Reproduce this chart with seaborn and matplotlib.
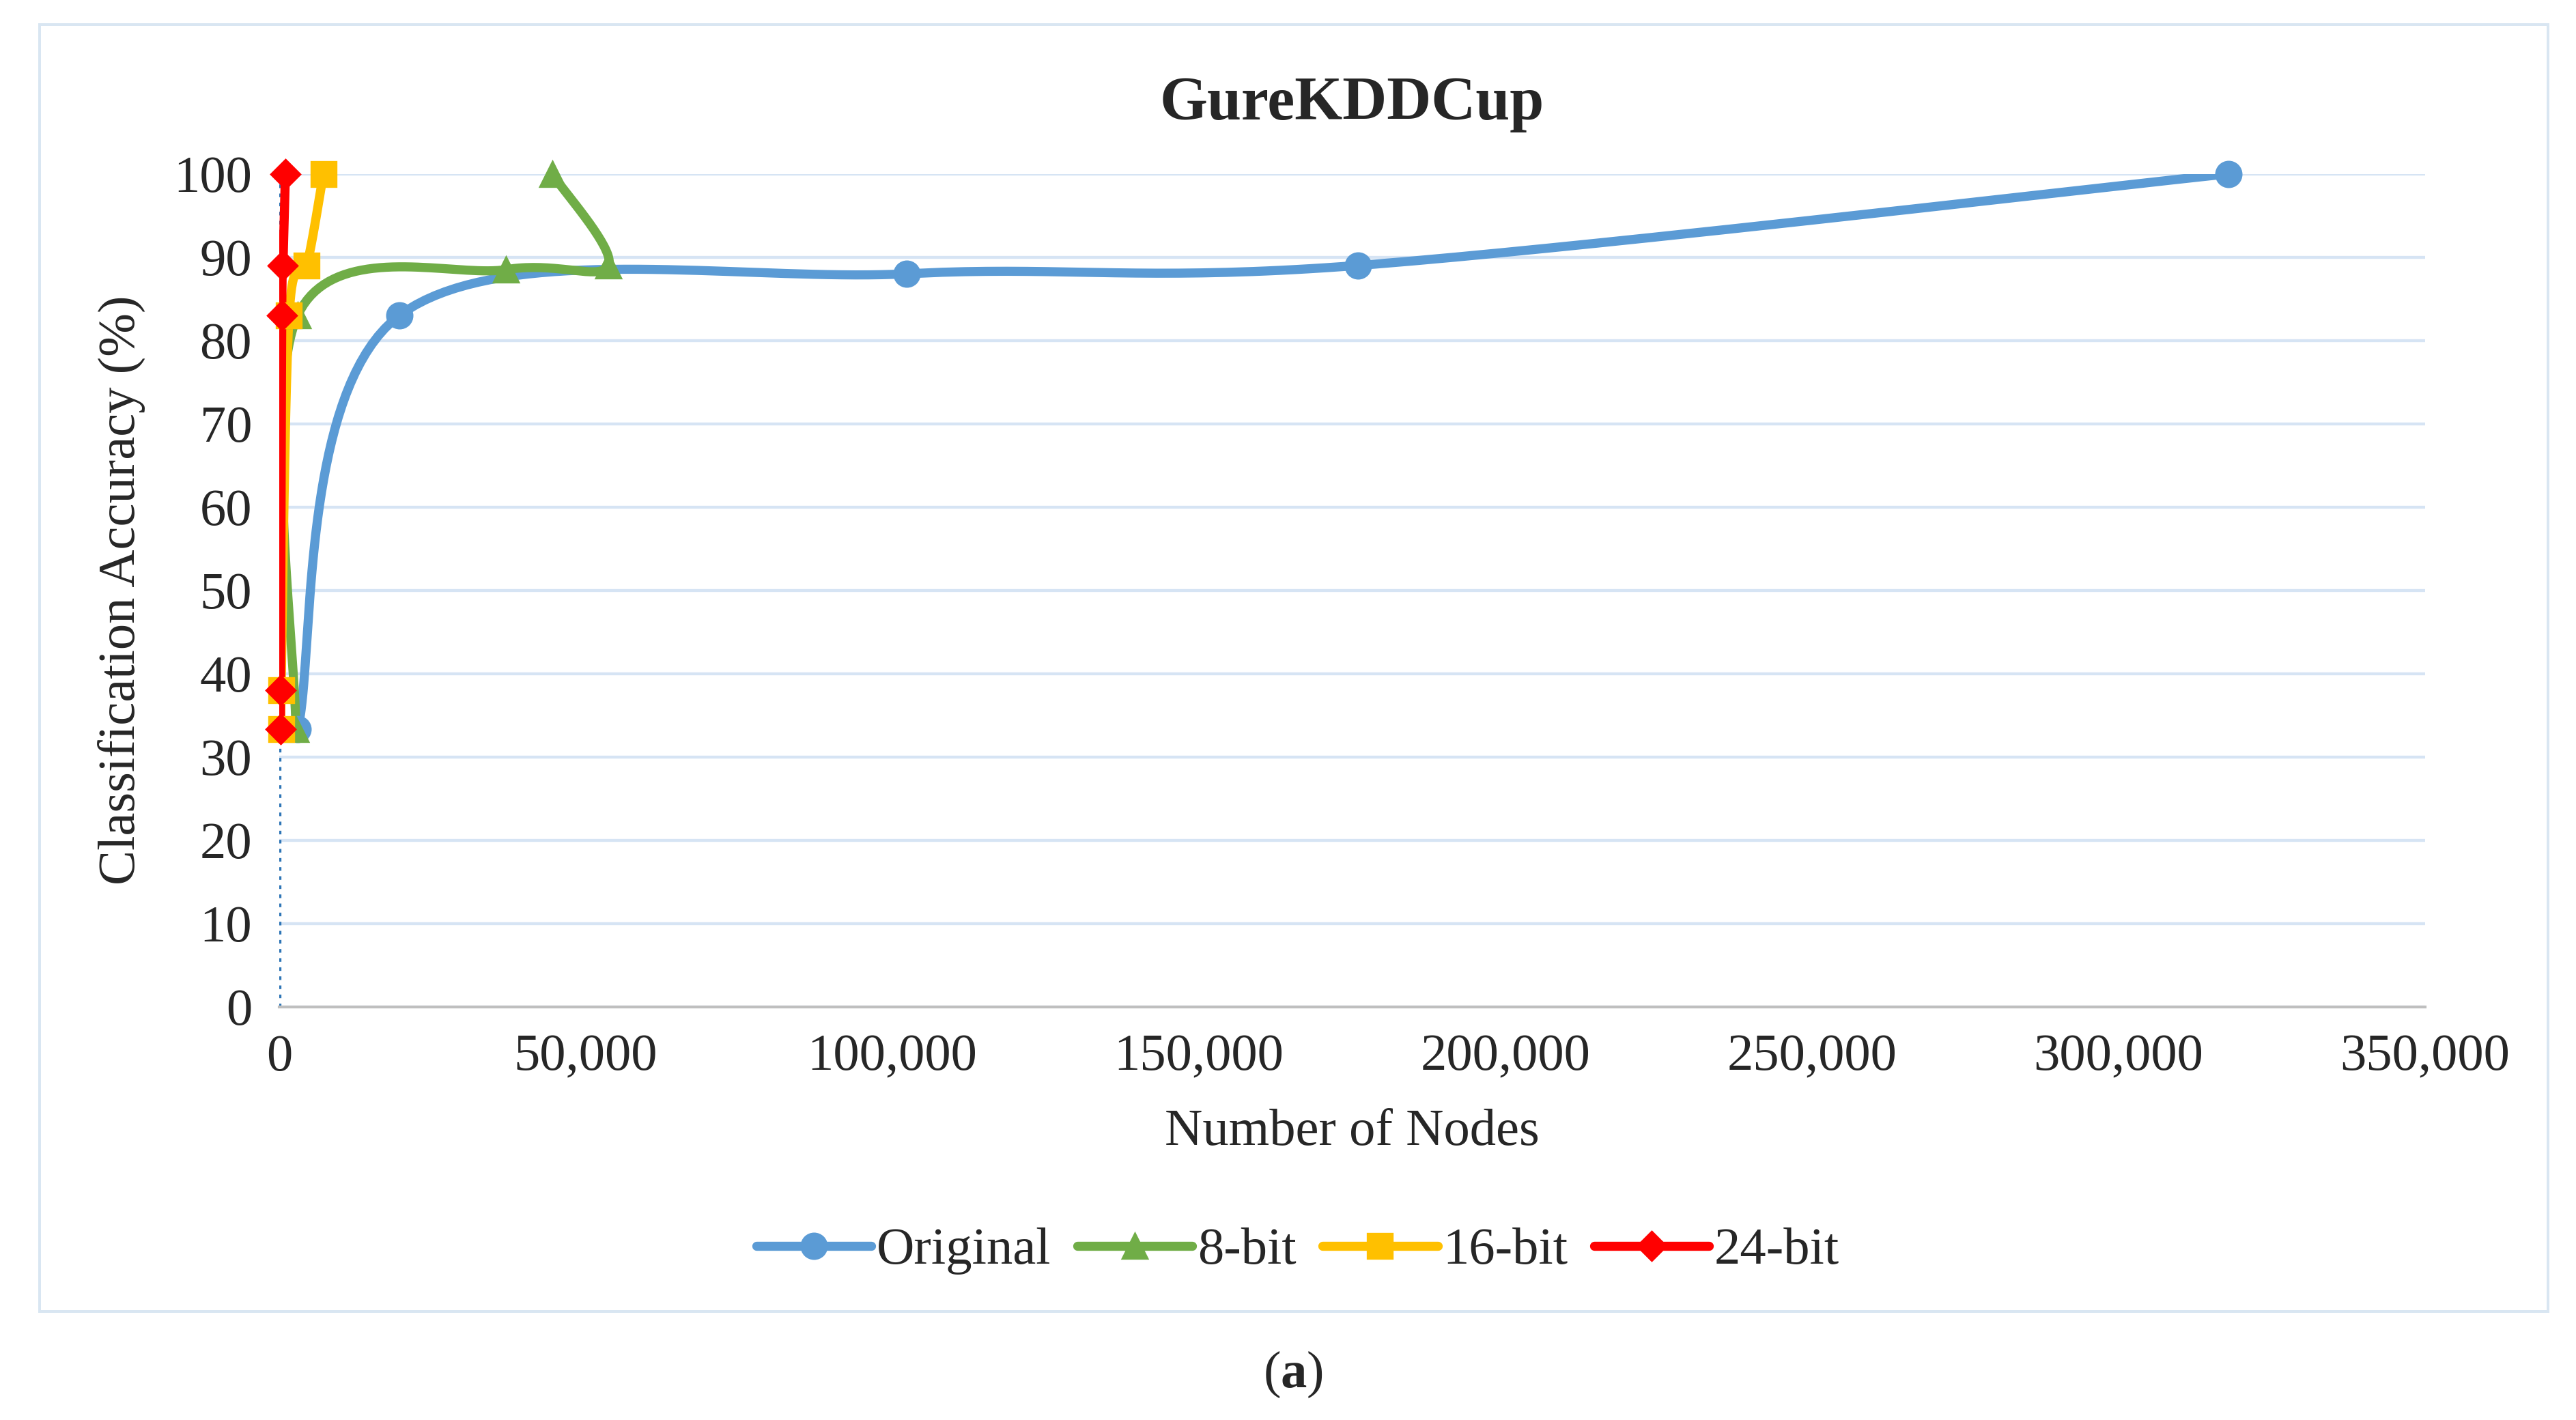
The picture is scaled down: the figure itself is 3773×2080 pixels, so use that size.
import numpy as np
import matplotlib
matplotlib.use("Agg")
import matplotlib.pyplot as plt
from matplotlib.lines import Line2D
from matplotlib.patches import Rectangle
import seaborn as sns
import pandas as pd

sns.set_theme(style="white")
plt.rcParams['font.family'] = ['Liberation Serif', 'DejaVu Serif']
plt.rcParams['mathtext.fontset'] = 'custom'
plt.rcParams['mathtext.rm'] = 'Liberation Serif'
plt.rcParams['mathtext.bf'] = 'Liberation Serif:bold'

orig_x = [3000, 19600, 102400, 176000, 318000]
orig_y = [33.3, 83, 88, 89, 100]
b8_x = [2700, 3000, 37000, 53700, 44500]
b8_y = [33.3, 83, 88.5, 89, 100]
b16_x = [300, 300, 1600, 4500, 7200]
b16_y = [33.3, 38, 83, 89, 100]
b24_x = [200, 200, 400, 600, 1000]
b24_y = [33.3, 38, 83, 89, 100]

series = [("Original", orig_x, orig_y, "#5B9BD5", "o"),
          ("8-bit", b8_x, b8_y, "#70AD47", "^"),
          ("16-bit", b16_x, b16_y, "#FFC000", "s"),
          ("24-bit", b24_x, b24_y, "#FF0000", "D")]

XMAX, YMAX = 350000.0, 100.0

def smooth(x, y, n=40):
    p = np.column_stack([np.array(x) / XMAX, np.array(y) / YMAX * 0.45])
    p = np.vstack([p[0], p, p[-1]])
    out = []
    for i in range(1, len(p) - 2):
        p0, p1, p2, p3 = p[i - 1], p[i], p[i + 1], p[i + 2]
        t = np.linspace(0, 1, n)[:, None]
        pts = 0.5 * ((2 * p1) + (-p0 + p2) * t + (2 * p0 - 5 * p1 + 4 * p2 - p3) * t ** 2
                     + (-p0 + 3 * p1 - 3 * p2 + p3) * t ** 3)
        out.append(pts)
    pts = np.vstack(out)
    return pts[:, 0] * XMAX, pts[:, 1] / 0.45 * YMAX

fig = plt.figure(figsize=(3773 / 240, 2080 / 240), dpi=240)
fig.patches.append(Rectangle((24 / 1568, 1 - 800 / 866), (1551 - 24) / 1568, (800 - 15) / 866,
                             transform=fig.transFigure, fill=False, edgecolor="#D9E6F2", lw=1.2))
ax = fig.add_axes([170 / 1568, 1 - 614 / 866, (1476 - 170) / 1568, (614 - 106) / 866])

ax.set_ylim(0, 100)
ax.set_xlim(0, XMAX)
ax.set_yticks(range(0, 101, 10))
ax.set_xticks(range(0, 350001, 50000))
ax.set_xticklabels([f"{v:,}" for v in range(0, 350001, 50000)])
ax.grid(axis="y", color="#D6E4F4", lw=1.3)
ax.set_axisbelow(True)
for s in ["top", "right", "left"]:
    ax.spines[s].set_visible(False)
ax.spines["bottom"].set_color("#BFBFBF")
ax.axvline(0, color="#2E75B6", ls=(0, (1, 1.5)), lw=1.6, zorder=1)
ax.tick_params(axis="both", length=0, labelsize=23, pad=12)

handles = []
for name, xs, ys, c, m in series:
    sx, sy = smooth(xs, ys)
    df = pd.DataFrame({"x": sx, "y": sy})
    sns.lineplot(data=df, x="x", y="y", sort=False, ax=ax, color=c, lw=4, estimator=None, zorder=3)
    ms = 11 if m != "D" else 9
    ax.plot(xs, ys, ls="none", marker=m, color=c, ms=ms, zorder=4, clip_on=False)
    handles.append(Line2D([0], [0], color=c, lw=4, marker=m, ms=ms, label=name))

ax.set_xlabel("Number of Nodes", fontsize=23, labelpad=12)
ax.set_ylabel("Classification Accuracy (%)", fontsize=23, labelpad=12)
ax.set_title("GureKDDCup", fontsize=27, fontweight="bold", pad=24)
fig.legend(handles=handles, loc="center", bbox_to_anchor=(790 / 1568, 1 - 763 / 866), ncol=4,
           frameon=False, fontsize=23, handlelength=2.2, handletextpad=0.1, columnspacing=0.5)
fig.text(787 / 1568, 1 - 838 / 866, r"($\mathbf{a}$)", ha="center", va="center", fontsize=23)
fig.savefig("out.png", dpi=240)
